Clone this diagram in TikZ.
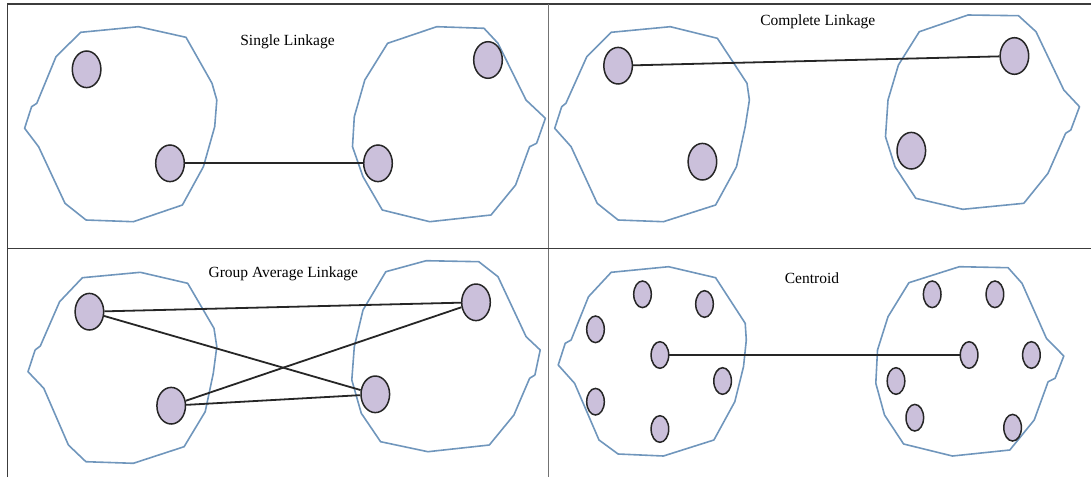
\documentclass[tikz,border=0pt]{standalone}
\usepackage{fontspec}
\setmainfont{Liberation Serif}
\usetikzlibrary{shapes.geometric}
\definecolor{clustblue}{RGB}{112,150,188}
\definecolor{dotfill}{RGB}{203,192,219}
\definecolor{framegray}{RGB}{60,60,60}
\tikzset{
  cluster/.style={draw=clustblue, line width=1.6pt, line join=round},
  bigdot/.style={ellipse, draw=black!85, fill=dotfill, line width=1.5pt, minimum width=28.6pt, minimum height=36.6pt, inner sep=0pt},
  smalldot/.style={ellipse, draw=black!85, fill=dotfill, line width=1.5pt, minimum width=17.6pt, minimum height=26.6pt, inner sep=0pt},
  link/.style={draw=black!85, line width=1.8pt},
  title/.style={font=\fontsize{15.5}{18}\selectfont, inner sep=0pt},
  framel/.style={draw=framegray, line width=1.5pt}
}
\begin{document}
\begin{tikzpicture}[x=1pt,y=-1pt]
\useasboundingbox (0,0) rectangle (1091,477);
% frame
\coordinate (tl) at (7.3,4);
\coordinate (tr) at (1091,4);
\coordinate (bl) at (7.3,477);
\coordinate (vt) at (548.3,4);
\coordinate (vb) at (548.3,477);
\coordinate (hl) at (7.3,248.5);
\coordinate (hr) at (1091,248.5);
\draw[framel] (bl) -- (tl) -- (tr);
\draw[framel, draw=black!55] (vt) -- (vb);
\draw[framel] (hl) -- (hr);

% ---------- Single Linkage ----------
\node[title] (t1) at (287.5,41.7) {Single Linkage};
\draw[cluster] (80.7,32.3) -- (138.5,26.7) -- (186,37.3) -- (212,83.3) -- (216.8,100) -- (214.7,126.7) -- (203.4,166.7) -- (182.4,205) -- (133.3,221.7) -- (86,220) -- (65,203.3) -- (38.6,146.7) -- (24.6,128.3) -- (31.6,106.7) -- (36.8,103.3) -- (56,56.7) -- cycle;
\draw[cluster] (387.6,43.3) -- (436.7,26.7) -- (484,28.3) -- (498,43.3) -- (526,100) -- (545.4,118.3) -- (536.6,143.3) -- (529.6,146.7) -- (515.6,185) -- (491,215) -- (429.7,221.7) -- (382.3,210) -- (363,176.7) -- (352.5,146.7) -- (354.3,116.7) -- (364.8,80) -- cycle;
\node[bigdot] (a1) at (86.6,69.3) {};
\node[bigdot] (a2) at (170,163.3) {};
\node[bigdot] (a3) at (378,163.3) {};
\node[bigdot] (a4) at (488,60) {};
\draw[link] (a2) -- (a3);

% ---------- Complete Linkage ----------
\node[title] (t2) at (817.8,21.7) {Complete Linkage};
\draw[cluster] (611.2,32.3) -- (670.3,26.7) -- (717.4,38.3) -- (747,83.3) -- (749.4,100) -- (745.2,126.7) -- (736.5,166.7) -- (715.6,205) -- (663.4,221.7) -- (618.1,220) -- (597.2,203.3) -- (571.1,146.7) -- (554.7,128.3) -- (561.7,106.7) -- (565.9,103.3) -- (586.8,56.7) -- cycle;
\draw[cluster] (919.3,31.7) -- (968,15) -- (1018.5,15.7) -- (1036,31.7) -- (1063.8,90) -- (1079.5,106.7) -- (1070.8,130) -- (1065.6,133.3) -- (1048,173.3) -- (1023.8,203.3) -- (962.8,209.3) -- (915.8,198.3) -- (895,166.7) -- (885.5,136.7) -- (888,100) -- (898.4,65) -- cycle;
\node[bigdot] (b1) at (618.1,65.7) {};
\node[bigdot] (b2) at (702.4,161.7) {};
\node[bigdot] (b3) at (1014.4,56) {};
\node[bigdot] (b4) at (911.3,150.7) {};
\draw[link] (b1) -- (b3);

% ---------- Group Average Linkage ----------
\node[title] (t3) at (283.3,273.3) {Group Average Linkage};
\draw[cluster] (82.4,277.7) -- (140.3,272.3) -- (187.7,283.3) -- (214,328.3) -- (216.8,346.7) -- (213.3,373.3) -- (205.2,411.7) -- (184.1,446.7) -- (133.3,463.3) -- (85.9,461.7) -- (68.4,445) -- (43.8,388.3) -- (28,371.7) -- (35.1,350) -- (40.3,346) -- (59.6,301.7) -- cycle;
\draw[cluster] (385.8,271.7) -- (426.2,260.7) -- (478.8,261.7) -- (498,276.7) -- (526.1,336.7) -- (540.2,350) -- (534.9,375) -- (529.6,378.3) -- (513.9,415) -- (489.3,445) -- (427.9,451.7) -- (380.6,441.7) -- (361.3,413.3) -- (351.8,380) -- (354.3,346.7) -- (363,310) -- cycle;
\node[bigdot] (c1) at (89.4,311.7) {};
\node[bigdot] (c2) at (171.2,405.7) {};
\node[bigdot] (c3) at (476,302.3) {};
\node[bigdot] (c4) at (375.3,394.3) {};
\draw[link] (c1) -- (c3);
\draw[link] (c1) -- (c4);
\draw[link] (c2) -- (c3);
\draw[link] (c2) -- (c4);

% ---------- Centroid ----------
\node[title] (t4) at (812,278.3) {Centroid};
\draw[cluster] (611.2,272.3) -- (668.6,266.7) -- (715.6,277.7) -- (745.2,323.3) -- (746.3,340) -- (743.5,366.7) -- (734.8,401.7) -- (713.9,440) -- (663.4,456) -- (618.1,454) -- (599,440) -- (574.6,383.3) -- (558.2,365) -- (565.2,343.3) -- (571.1,340) -- (588.5,296.7) -- cycle;
\draw[cluster] (908.9,282.7) -- (959.3,266.7) -- (1008.1,267.7) -- (1022,283.3) -- (1046.4,338.3) -- (1063.8,356) -- (1055.1,378.3) -- (1048.1,381.7) -- (1034.2,420) -- (1009.8,450) -- (952.4,456) -- (903.6,444) -- (884.5,415) -- (875.8,383.3) -- (877.5,350) -- (888,316.7) -- cycle;
\node[smalldot] (d1) at (642.5,294.3) {};
\node[smalldot] (d2) at (704.5,304) {};
\node[smalldot] (d3) at (595.5,329.3) {};
\node[smalldot] (d4) at (659.9,355) {};
\node[smalldot] (d5) at (722.6,381) {};
\node[smalldot] (d6) at (595.5,401.7) {};
\node[smalldot] (d7) at (659.9,429) {};
\node[smalldot] (e1) at (932.2,294.3) {};
\node[smalldot] (e2) at (994.9,294.3) {};
\node[smalldot] (e3) at (969.1,355) {};
\node[smalldot] (e4) at (1031.4,355) {};
\node[smalldot] (e5) at (896,381) {};
\node[smalldot] (e6) at (914.8,417.7) {};
\node[smalldot] (e7) at (1012.6,427.7) {};
\draw[link] (d4) -- (e3);
\end{tikzpicture}
\end{document}
